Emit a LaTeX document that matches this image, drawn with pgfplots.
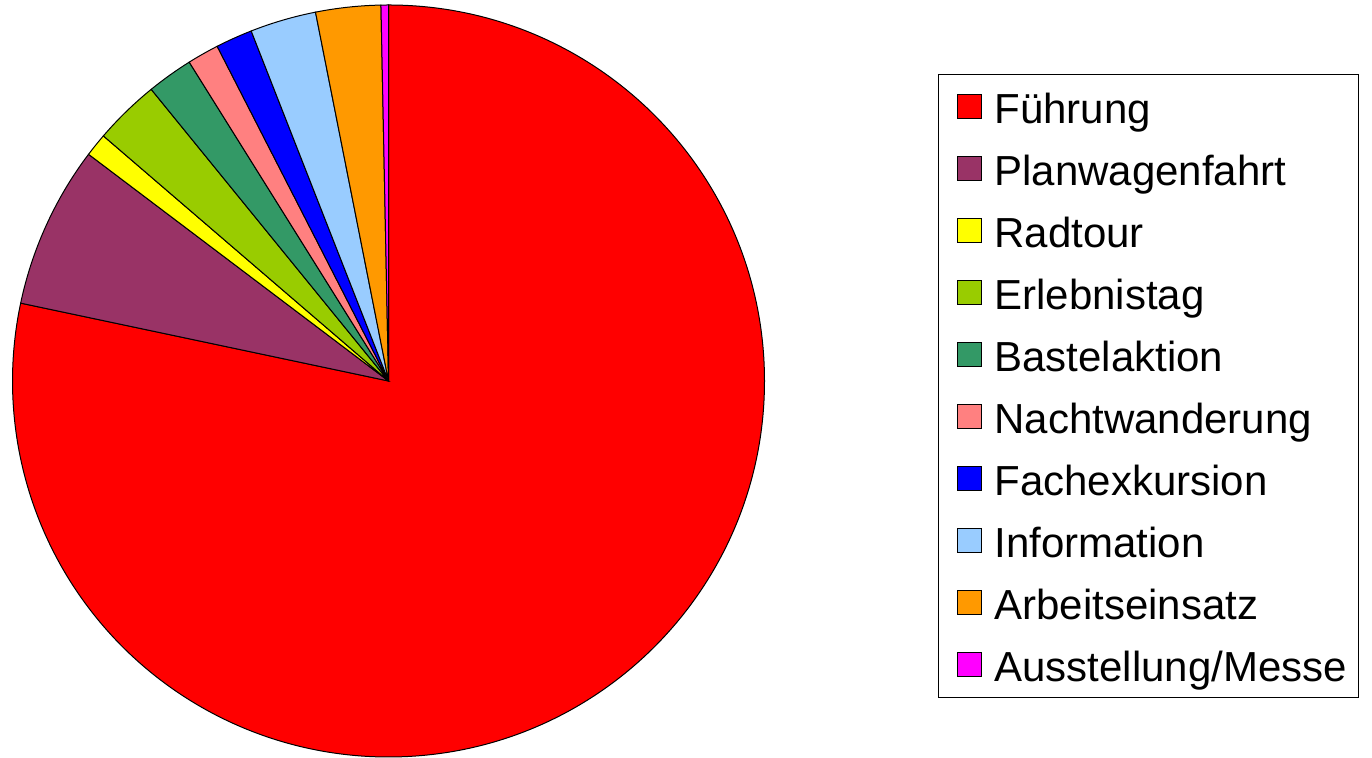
\documentclass[border=0pt]{standalone}
\usepackage{fontspec}
\setmainfont{Liberation Sans}
\usepackage{pgfplots}
\usepackage{pgfplotstable}
\pgfplotsset{compat=1.18}

\definecolor{cFuehr}{HTML}{FF0000}
\definecolor{cPlan}{HTML}{993366}
\definecolor{cRad}{HTML}{FFFF00}
\definecolor{cErl}{HTML}{99CC00}
\definecolor{cBast}{HTML}{339966}
\definecolor{cNacht}{HTML}{FF8080}
\definecolor{cFach}{HTML}{0000FF}
\definecolor{cInfo}{HTML}{99CCFF}
\definecolor{cArb}{HTML}{FF9900}
\definecolor{cAuss}{HTML}{FF00FF}

% share in percent, clockwise from 12 o'clock
\pgfplotstableread[col sep=comma]{
label,value,col
Führung,78.32,cFuehr
Planwagenfahrt,6.98,cPlan
Radtour,1.00,cRad
Erlebnistag,2.83,cErl
Bastelaktion,1.98,cBast
Nachtwanderung,1.36,cNacht
Fachexkursion,1.58,cFach
Information,2.84,cInfo
Arbeitseinsatz,2.79,cArb
Ausstellung/Messe,0.33,cAuss
}\piedata

\begin{document}
\begin{tikzpicture}
\begin{axis}[
    scale only axis,
    width=686pt, height=379pt,
    xmin=0, xmax=1372, ymin=0, ymax=758,
    axis lines=none, ticks=none,
    clip=false,
    legend image code/.code={
        \path (-3.5pt,0pt);
        \draw[#1, draw=black, line width=0.5pt] (0pt,-6pt) rectangle (12pt,6pt);
    },
    legend cell align=left,
    legend style={
        at={(0.6837,0.9024)}, anchor=north west,
        draw=black, line width=0.5pt,
        inner xsep=5.5pt, inner ysep=0.7pt,
        column sep=6.5pt,
        font=\fontsize{21}{25}\selectfont,
        nodes={inner sep=0pt, text height=23.9pt, text depth=7.1pt},
    },
]
\path (axis cs:0,0) rectangle (axis cs:1372,758);
\def\cum{0}
\pgfplotsforeachungrouped \i in {0,...,9}{%
    \pgfplotstablegetelem{\i}{value}\of\piedata \let\val\pgfplotsretval
    \pgfplotstablegetelem{\i}{col}\of\piedata \let\sc\pgfplotsretval
    \pgfmathsetmacro\sa{90-3.6*\cum}%
    \pgfmathsetmacro\ea{90-3.6*(\cum+\val)}%
    \edef\slice{\noexpand\filldraw[fill=\sc, draw=black, line width=0.5pt]
        (axis cs:388.5,377) -- ++(\sa:188pt)
        arc[start angle=\sa, end angle=\ea, radius=188pt] -- cycle;}%
    \slice
    \pgfmathsetmacro\cum{\cum+\val}%
    \pgfplotstablegetelem{\i}{label}\of\piedata
    \edef\leg{\noexpand\addlegendimage{fill=\sc}\noexpand\addlegendentry{\pgfplotsretval}}%
    \leg
}
\end{axis}
\end{tikzpicture}
\end{document}
